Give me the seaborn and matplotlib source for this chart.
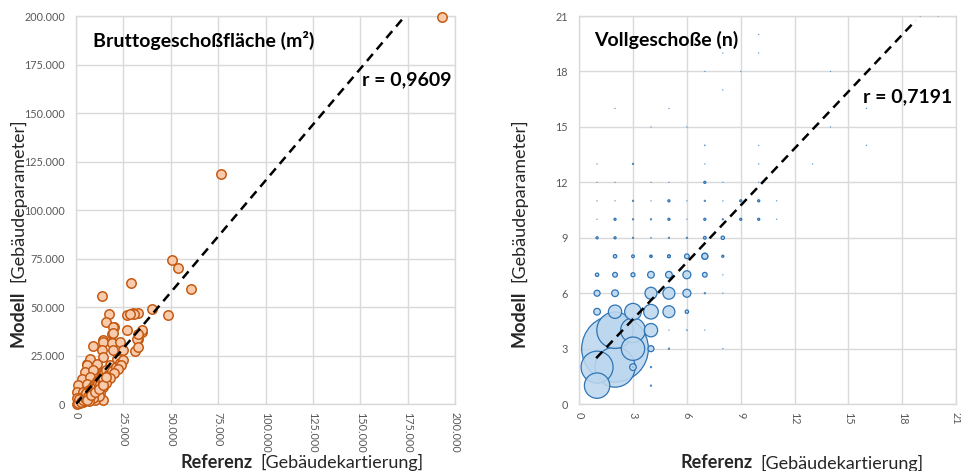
import numpy as np
import pandas as pd
import seaborn as sns
import matplotlib.pyplot as plt
from matplotlib.ticker import FuncFormatter

# Bruttogeschoßfläche (m²): Referenz vs. Modell
bgf_referenz = [
    193100, 76500, 50500, 54000, 60700, 28800, 13700, 40300, 48400, 17600,
    26700, 29900, 32900, 15800, 20100, 19000, 26700, 34600, 32900, 31100,
    14200, 9100, 14400, 6000, 5300, 19700, 19700, 14400, 18800, 23200,
    13500, 19700, 25000, 32000, 32900, 7400, 14400, 21500, 5600, 10900,
    17900, 23200, 4700, 9100, 14400, 19700, 3000, 7400, 12700, 17000,
    1200, 5600, 10000, 14400, 400, 3900, 8300, 12700, 300, 3000,
    6500, 10000, 500, 1900, 2000, 3000, 4000, 5000, 6000, 7000,
    8000, 9000, 10000, 11000, 12000, 13000, 14000, 15000, 16000, 5500,
    7500, 9500, 11500, 13500, 15500, 17000, 19000, 21000, 23000, 25000,
    24000, 22000, 20000, 18000, 16000, 12000, 9000, 7000, 30700, 28500,
    34600, 32900, 1000, 2500, 4500, 6500, 8500, 10500, 12500, 3500,
    1500, 2500, 3500, 4500, 5500, 6500, 7500, 8500, 9500, 10500,
    11500, 12500, 13500, 14500, 6000, 8000, 10000, 12000, 14000, 16000,
]
bgf_modell = [
    199500, 118500, 74300, 70000, 59200, 62600, 55700, 49200, 46100, 46500,
    45800, 46800, 47200, 42400, 39600, 36200, 38200, 37400, 33400, 27400,
    32800, 30000, 2200, 20800, 16800, 39700, 36500, 32000, 31300, 32000,
    27800, 27800, 27800, 33800, 29500, 23500, 24300, 23500, 20000, 20900,
    20000, 20900, 16600, 17500, 16600, 17500, 13200, 14000, 13200, 14000,
    9800, 10600, 9800, 8900, 6300, 6300, 7200, 5500, 2900, 2000,
    2900, 2000, 300, 500, 1500, 3000, 4000, 4500, 6000, 7500,
    8000, 9500, 10500, 12000, 12500, 14000, 15000, 16000, 17500, 3000,
    5000, 7000, 9500, 11000, 13000, 15000, 17000, 19000, 21000, 22500,
    20000, 18000, 16000, 13500, 11000, 4000, 3000, 1500, 46600, 46600,
    38000, 36300, 800, 1800, 3500, 5000, 7000, 8500, 10000, 1200,
    2500, 1000, 2000, 3000, 5500, 4000, 6500, 7000, 8500, 9000,
    11000, 10500, 12500, 13500, 2000, 4500, 6000, 8000, 10000, 14000,
]
bgf_fit_slope = 1.152
bgf_fit_x = [0, 173600]

# Vollgeschoße (n): Referenz, Modell, Anzahl Gebäude (Blasengröße)
vg_referenz = [
    2, 2, 2, 1, 1, 3, 3, 4, 2, 3, 4, 4, 5, 4, 5, 3, 1, 2, 6, 4,
    5, 6, 7, 6, 1, 2, 3, 4, 5, 7, 1, 2, 3, 4, 5, 6, 7, 8,
    1, 2, 3, 4, 5, 6, 7, 8, 1, 2, 3, 4, 5, 6, 7, 8, 9, 10, 11,
    1, 2, 3, 4, 5, 6, 7, 8, 9, 10, 11, 1, 2, 4, 5, 7, 8, 10,
    1, 3, 7, 10, 13, 7, 10, 16, 4, 6, 14, 2, 5, 16, 8, 7, 9, 14,
    8, 10, 10, 19, 20, 4, 3, 4, 5, 6, 7, 8, 8, 8, 7, 1, 5, 6,
]
vg_modell = [
    3, 2, 4, 2, 1, 4, 3, 6, 5, 5, 5, 4, 5, 3, 6, 2, 5, 6, 6, 7,
    7, 7, 7, 5, 6, 7, 7, 8, 8, 8, 7, 8, 8, 8, 8, 8, 8, 8,
    9, 9, 9, 9, 9, 9, 9, 9, 10, 10, 10, 10, 10, 10, 10, 10, 10, 10, 10,
    11, 11, 11, 11, 11, 11, 11, 11, 11, 11, 11, 12, 12, 12, 12, 12, 12, 12,
    13, 13, 13, 13, 13, 14, 14, 14, 15, 15, 15, 16, 16, 16, 17, 18, 18, 18,
    19, 19, 20, 21, 21, 2, 2, 1, 3, 4, 4, 3, 6, 7, 6, 4, 4, 4,
]
vg_anzahl = [
    10000, 3600, 3000, 2300, 1450, 1370, 1225, 320, 400, 625, 480, 400, 320, 80, 320, 100, 100, 100, 144, 100,
    100, 144, 49, 25, 80, 49, 36, 9, 16, 81, 25, 25, 16, 9, 16, 49, 81, 9,
    9, 9, 4, 2, 4, 4, 16, 25, 1, 9, 4, 4, 9, 1, 9, 4, 9, 9, 1,
    1, 1, 4, 1, 9, 1, 4, 1, 9, 9, 1, 1, 1, 1, 1, 9, 1, 1,
    1, 4, 1, 1, 1, 2, 1, 1, 1, 1, 1, 1, 1, 1, 1, 1, 1, 1,
    1, 1, 1, 1, 1, 4, 1, 4, 4, 1, 1, 1, 1, 1, 4, 1, 1, 1,
]
vg_fit_slope = 1.027
vg_fit_intercept = 1.51
vg_fit_x = [0.95, 18.75]

sns.set_theme(style="whitegrid")
plt.rcParams["font.family"] = ["Lato", "DejaVu Sans"]

grey_txt = "#595959"
grid_col = "#d9d9d9"


def style_axes(ax, lim, step, fmt):
    ax.set_xlim(0, lim)
    ax.set_ylim(0, lim)
    ticks = np.arange(0, lim + step, step)
    ax.set_xticks(ticks)
    ax.set_yticks(ticks)
    ax.xaxis.set_major_formatter(FuncFormatter(fmt))
    ax.yaxis.set_major_formatter(FuncFormatter(fmt))
    ax.tick_params(axis="both", length=0, labelsize=7.8, labelcolor=grey_txt)
    ax.tick_params(axis="x", pad=6)
    ax.tick_params(axis="y", pad=8)
    for lbl in ax.get_xticklabels():
        lbl.set_rotation(-90)
    ax.grid(True, color=grid_col, linewidth=1)
    for sp in ax.spines.values():
        sp.set_color(grid_col)
        sp.set_linewidth(1)
    ax.set_xlabel("")
    ax.set_ylabel("")


def tausender(v, pos):
    return f"{v:,.0f}".replace(",", ".")


def split_label(fig, ax, x, y, bold, normal, rotation=0):
    if rotation == 0:
        t = fig.text(x, y, bold, fontsize=13, fontweight="bold", color="#262626",
                     ha="left", va="center")
        ax.annotate(normal, xy=(1, 0.5), xycoords=t, xytext=(6, 0),
                    textcoords="offset points", fontsize=13, color="#262626",
                    ha="left", va="center", annotation_clip=False)
    else:
        t = fig.text(x, y, bold, fontsize=13, fontweight="bold", color="#262626",
                     ha="center", va="bottom", rotation=90)
        ax.annotate(normal, xy=(0.5, 1), xycoords=t, xytext=(0, 6),
                    textcoords="offset points", fontsize=13, color="#262626",
                    ha="center", va="bottom", rotation=90, annotation_clip=False)


fig = plt.figure(figsize=(9.62, 4.71), dpi=100)
ax1 = fig.add_axes([0.079, 0.142, 0.394, 0.824])
ax2 = fig.add_axes([0.602, 0.142, 0.392, 0.824])

# linkes Diagramm
df1 = pd.DataFrame({"Referenz": bgf_referenz, "Modell": bgf_modell})
sns.scatterplot(data=df1, x="Referenz", y="Modell", ax=ax1, s=46,
                facecolor="#f8cbad", edgecolor="#c55a11", linewidth=1.1,
                zorder=3, clip_on=False)
fx = np.array(bgf_fit_x, dtype=float)
ax1.plot(fx, bgf_fit_slope * fx, color="black", linewidth=1.8,
         dashes=(3.6, 2.4), zorder=4)
style_axes(ax1, 200000, 25000, tausender)
ax1.text(0.045, 0.938, "Bruttogeschoßfläche (m²)", transform=ax1.transAxes,
         fontsize=14, fontweight="bold", color="black", ha="left", va="center")
ax1.text(0.99, 0.835, "r = 0,9609", transform=ax1.transAxes,
         fontsize=14, fontweight="bold", color="black", ha="right", va="center")

# rechtes Diagramm
df2 = pd.DataFrame({"Referenz": vg_referenz, "Modell": vg_modell, "Anzahl": vg_anzahl})
df2 = df2.sort_values("Anzahl", ascending=False).reset_index(drop=True)
amin, amax = min(vg_anzahl), max(vg_anzahl)
sns.scatterplot(data=df2, x="Referenz", y="Modell", size="Anzahl", ax=ax2,
                sizes=(0.4, 0.2304 * amax), size_norm=(amin, amax),
                facecolor=(0.741, 0.843, 0.933, 0.88), edgecolor="#2e75b6",
                linewidth=0.9, legend=False, zorder=3)
ax2.collections[0].set_linewidths(np.clip(0.15 + 0.1 * df2["Anzahl"].to_numpy(), 0.15, 0.9))
gx = np.array(vg_fit_x, dtype=float)
ax2.plot(gx, vg_fit_intercept + vg_fit_slope * gx, color="black", linewidth=1.8,
         dashes=(3.6, 2.4), zorder=4)
style_axes(ax2, 21, 3, lambda v, p: f"{v:.0f}")
ax2.text(0.04, 0.938, "Vollgeschoße (n)", transform=ax2.transAxes,
         fontsize=14, fontweight="bold", color="black", ha="left", va="center")
ax2.text(0.99, 0.791, "r = 0,7191", transform=ax2.transAxes,
         fontsize=14, fontweight="bold", color="black", ha="right", va="center")

# Achsentitel
split_label(fig, ax1, 180 / 962, 1 - 462 / 471, "Referenz", "[Gebäudekartierung]")
split_label(fig, ax1, 18 / 962, 1 - 347 / 471, "Modell", "[Gebäudeparameter]", rotation=90)
split_label(fig, ax2, 680 / 962, 1 - 463 / 471, "Referenz", "[Gebäudekartierung]")
split_label(fig, ax2, 519 / 962, 1 - 347 / 471, "Modell", "[Gebäudeparameter]", rotation=90)

fig.savefig("out.png", dpi=100, facecolor="white")
